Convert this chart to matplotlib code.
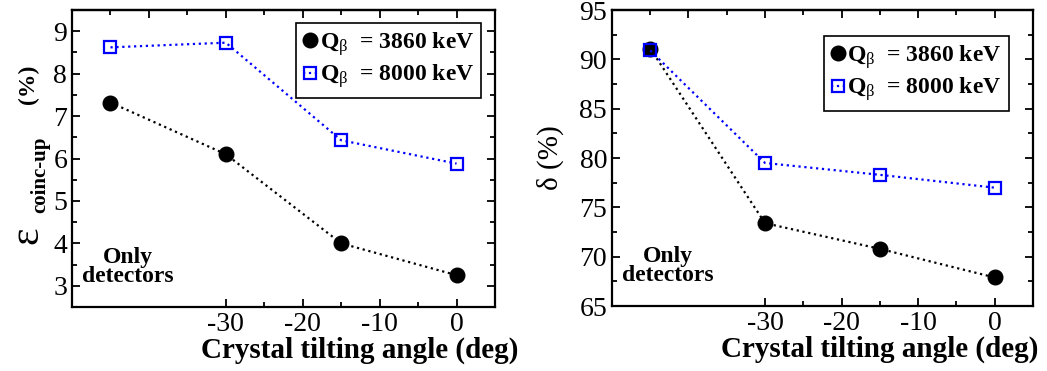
import matplotlib

matplotlib.use("Agg")
import matplotlib.pyplot as plt
from matplotlib.ticker import MultipleLocator, FixedLocator

# Data
angles = [-45, -30, -15, 0]          # -45 stands for "Only detectors"
eff_3860 = [7.32, 6.10, 4.00, 3.25]
eff_8000 = [8.62, 8.73, 6.43, 5.88]
delta_3860 = [91.1, 73.4, 70.8, 67.9]
delta_8000 = [90.9, 79.5, 78.3, 77.0]

labels = [r"$\mathbf{Q}_{\mathrm{\beta}}$  = 3860 keV", r"$\mathbf{Q}_{\mathrm{\beta}}$  = 8000 keV"]

plt.rcParams["font.family"] = ["Liberation Serif", "DejaVu Serif"]
plt.rcParams["mathtext.fontset"] = "custom"
plt.rcParams["mathtext.rm"] = "Liberation Serif"
plt.rcParams["mathtext.it"] = "Liberation Serif:italic"
plt.rcParams["mathtext.bf"] = "Liberation Serif:bold"
plt.rcParams["axes.unicode_minus"] = False

fig = plt.figure(figsize=(10.47, 3.71), dpi=100)
ax1 = fig.add_axes([0.0688, 0.1725, 0.404, 0.8005])
ax2 = fig.add_axes([0.5845, 0.175, 0.402, 0.798])


def style_axes(ax, ylim, ymajor, yminor):
    ax.set_xlim(-50, 5)
    ax.set_ylim(*ylim)
    ax.xaxis.set_major_locator(FixedLocator([-30, -20, -10, 0]))
    ax.xaxis.set_minor_locator(FixedLocator([-25, -15, -5]))
    ax.yaxis.set_major_locator(MultipleLocator(ymajor))
    ax.yaxis.set_minor_locator(MultipleLocator(yminor))
    ax.tick_params(which="both", direction="in", right=True, width=1.3, labelsize=20)
    ax.tick_params(axis="x", which="both", top=False)
    ax.tick_params(which="major", length=6)
    ax.tick_params(which="minor", length=3.5)
    for sp in ax.spines.values():
        sp.set_linewidth(1.6)
    top = ax.secondary_xaxis("top")
    top.xaxis.set_major_locator(MultipleLocator(10))
    top.xaxis.set_minor_locator(MultipleLocator(5))
    top.tick_params(which="both", direction="in", labeltop=False, width=1.3)
    top.tick_params(which="major", length=6)
    top.tick_params(which="minor", length=3.5)
    top.spines["top"].set_linewidth(1.6)
    ax.set_xlabel("Crystal tilting angle (deg)", fontsize=21, fontweight="bold")
    ax.text(-42.7, ylim[0] + 0.135 * (ylim[1] - ylim[0]), "Only\ndetectors",
            ha="center", va="center", fontsize=17, fontweight="bold", linespacing=0.9)


for ax, s1, s2 in [(ax1, eff_3860, eff_8000), (ax2, delta_3860, delta_8000)]:
    ax.plot(angles, s1, ls=":", lw=1.6, color="black", marker="o", ms=10.5,
            mfc="black", mec="black", label=labels[0])
    ax.plot(angles, s2, ls=":", lw=1.6, color="#0000ff", marker="s", ms=8,
            mfc="none", mec="#0000ff", mew=1.6, label=labels[1])

style_axes(ax1, (2.5, 9.5), 1, 0.5)
style_axes(ax2, (65, 95), 5, 2.5)

# left y label, built from pieces: big epsilon, bold subscript, bold (%)
ax1.text(-0.106, 0.24, "ε", transform=ax1.transAxes, rotation=90,
         ha="center", va="center", fontsize=30)
ax1.text(-0.076, 0.444, "coinc-up", transform=ax1.transAxes, rotation=90,
         ha="center", va="center", fontsize=15, fontweight="bold")
ax1.text(-0.102, 0.751, "(%)", transform=ax1.transAxes, rotation=90,
         ha="center", va="center", fontsize=17, fontweight="bold")
ax2.set_ylabel("δ (%)", fontsize=21)
ax2.yaxis.set_label_coords(-0.115, 0.5)
ax1.xaxis.set_label_coords(0.679, -0.1)
ax2.xaxis.set_label_coords(0.636, -0.1)

for ax, loc in [(ax1, (0.967, 0.956)), (ax2, (0.943, 0.912))]:
    leg = ax.legend(loc="upper right", bbox_to_anchor=loc, fancybox=False,
                    edgecolor="black", framealpha=1, handlelength=0.6,
                    handletextpad=0.1, borderpad=0.3, labelspacing=0.2,
                    borderaxespad=0, prop={"size": 17, "weight": "bold"})
    leg.get_frame().set_linewidth(1.2)

fig.savefig("out.png", dpi=100)
